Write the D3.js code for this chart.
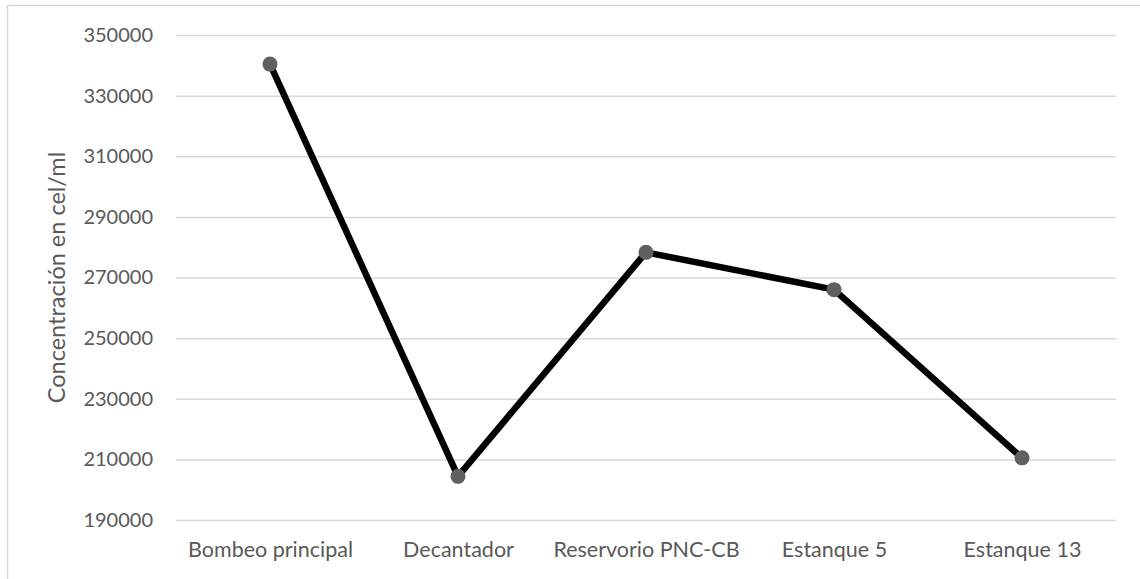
<!DOCTYPE html>
<html>
<head>
<meta charset="utf-8">
<script src="https://cdn.jsdelivr.net/npm/d3@7"></script>
<style>
  html, body { margin: 0; padding: 0; background: #fff; }
  svg { display: block; }
  text { font-family: Lato, "Open Sans", sans-serif; fill: #595959; }
</style>
</head>
<body>
<svg id="chart" width="1140" height="579"></svg>
<script>
// Cell concentration by sampling point
const categories = ["Bombeo principal", "Decantador", "Reservorio PNC-CB", "Estanque 5", "Estanque 13"];
const values = [340400, 204400, 278300, 266000, 210500];
const yTicks = [190000, 210000, 230000, 250000, 270000, 290000, 310000, 330000, 350000];
const yTitle = "Concentración en cel/ml";

const svg = d3.select("#chart");
const W = 1140, H = 579;
const plot = { left: 176, right: 1116, top: 35, bottom: 520 };

// chart frame
svg.append("rect")
  .attr("x", 7.5).attr("y", 5.5)
  .attr("width", W + 10).attr("height", H + 10)
  .attr("fill", "none").attr("stroke", "#d9d9d9").attr("stroke-width", 1.5);

const x = d3.scalePoint().domain(categories).range([plot.left, plot.right]).padding(0.5);
const y = d3.scaleLinear().domain([190000, 350000]).range([plot.bottom, plot.top]);

// gridlines + y tick labels
const yAxis = d3.axisLeft(y).tickValues(yTicks).tickSize(-(plot.right - plot.left)).tickPadding(23).tickFormat(d3.format("d"));
const gy = svg.append("g").attr("transform", `translate(${plot.left},0)`).call(yAxis);
gy.select(".domain").remove();
gy.selectAll(".tick line").attr("stroke", "#d9d9d9").attr("stroke-width", 1.5);
gy.selectAll(".tick text").attr("font-size", 20).attr("fill", "#595959");

// category labels
const xAxis = d3.axisBottom(x).tickSize(0).tickPadding(22);
const gx = svg.append("g").attr("transform", `translate(0,${plot.bottom})`).call(xAxis);
gx.select(".domain").remove();
gx.selectAll(".tick text").attr("font-size", 21.5).attr("fill", "#595959");

// axis title
svg.append("text")
  .attr("transform", `translate(65,${(plot.top + plot.bottom) / 2}) rotate(-90)`)
  .attr("text-anchor", "middle")
  .attr("font-size", 23.5)
  .text(yTitle);

const pts = categories.map((c, i) => [x(c), y(values[i])]);

// series line
svg.append("path")
  .attr("d", d3.line()(pts))
  .attr("fill", "none").attr("stroke", "#000").attr("stroke-width", 6.5)
  .attr("stroke-linejoin", "round");

// markers
svg.selectAll("circle.pt").data(pts).join("circle")
  .attr("class", "pt")
  .attr("cx", d => d[0]).attr("cy", d => d[1]).attr("r", 7.5)
  .attr("fill", "#606060");
</script>
</body>
</html>
